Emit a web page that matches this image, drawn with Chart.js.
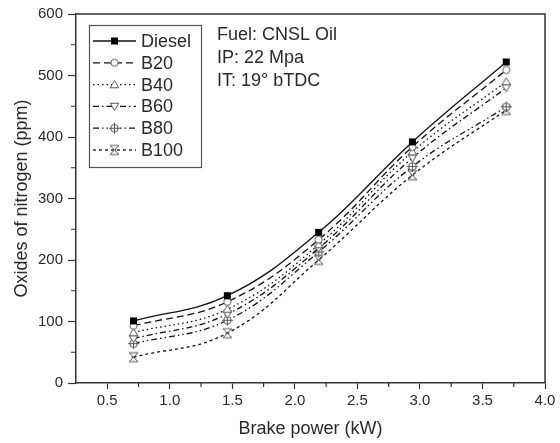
<!DOCTYPE html>
<html><head><meta charset="utf-8">
<script src="https://cdn.jsdelivr.net/npm/chart.js@4.4.1/dist/chart.umd.min.js"></script>
<style>html,body{margin:0;padding:0;background:#fff}#wrap{width:560px;height:443px}</style>
</head><body><div id="wrap"><canvas id="c" width="560" height="443"></canvas></div>
<script>
// ---- data ----
const brakePower = [0.71, 1.46, 2.19, 2.94, 3.69];
const diesel = [101, 142, 245, 392, 522];
const b20    = [93, 132, 233, 384, 509];
const b40    = [82, 120, 225, 376, 490];
const b60    = [72, 112, 219, 366, 480];
const b80    = [64, 102, 213, 352, 449];
const b100   = [42, 81, 200, 338, 444];
const seriesNames = ['Diesel', 'B20', 'B40', 'B60', 'B80', 'B100'];
const xTickValues = [0.5, 1.0, 1.5, 2.0, 2.5, 3.0, 3.5, 4.0];
const yTickValues = [0, 100, 200, 300, 400, 500, 600];
const xMinorTicks = [0.75, 1.25, 1.75, 2.25, 2.75, 3.25, 3.75];
const yMinorTicks = [50, 150, 250, 350, 450, 550];
const annotationLines = ['Fuel: CNSL Oil', 'IP: 22 Mpa', 'IT: 19\u00B0 bTDC'];
const xTitle = 'Brake power (kW)';
const yTitle = 'Oxides of nitrogen (ppm)';

const FONT = "'Liberation Sans', Arial, sans-serif";
const TXT = '#2a2a2a';
const AX = '#333';

function marker(type) {
  const s = 13, m = s / 2;
  const c = document.createElement('canvas');
  c.width = s; c.height = s;
  const g = c.getContext('2d');
  g.lineWidth = 1; g.strokeStyle = '#555'; g.fillStyle = '#fff';
  g.beginPath();
  if (type === 'square') {
    g.fillStyle = '#000'; g.fillRect(m - 3.5, m - 3.5, 7, 7);
  } else if (type === 'circle') {
    g.arc(m, m, 3.6, 0, Math.PI * 2); g.fill(); g.stroke();
  } else if (type === 'tri') {
    g.moveTo(m, m - 4); g.lineTo(m - 4.3, m + 3.2); g.lineTo(m + 4.3, m + 3.2); g.closePath(); g.fill(); g.stroke();
  } else if (type === 'triDown') {
    g.moveTo(m, m + 4); g.lineTo(m - 4.3, m - 3.2); g.lineTo(m + 4.3, m - 3.2); g.closePath(); g.fill(); g.stroke();
  } else if (type === 'circPlus') {
    g.arc(m, m, 3.8, 0, Math.PI * 2); g.fill(); g.stroke();
    g.beginPath(); g.moveTo(m - 5.5, m); g.lineTo(m + 5.5, m); g.moveTo(m, m - 5.5); g.lineTo(m, m + 5.5); g.stroke();
  } else if (type === 'xBox') {
    g.moveTo(m - 4.5, m - 4.5); g.lineTo(m + 4.5, m + 4.5);
    g.moveTo(m + 4.5, m - 4.5); g.lineTo(m - 4.5, m + 4.5);
    g.moveTo(m - 4.5, m - 4.5); g.lineTo(m + 4.5, m - 4.5);
    g.moveTo(m - 4.5, m + 4.5); g.lineTo(m + 4.5, m + 4.5);
    g.moveTo(m - 2, m); g.lineTo(m + 2, m);
    g.stroke();
  }
  return c;
}

const seriesValues = [diesel, b20, b40, b60, b80, b100];
const markerTypes = ['square', 'circle', 'tri', 'triDown', 'circPlus', 'xBox'];
const dashes = [[], [7, 4], [1.5, 3], [6, 3, 1.5, 3], [6, 3, 1.5, 3, 1.5, 3], [3, 3]];

const datasets = seriesNames.map((name, i) => ({
  label: name,
  data: brakePower.map((x, j) => ({ x: x, y: seriesValues[i][j] })),
  borderColor: '#111',
  borderWidth: 1.3,
  borderDash: dashes[i],
  pointStyle: marker(markerTypes[i]),
  pointRadius: 5,
  tension: 0.4,
  fill: false
}));

const extras = {
  id: 'extras',
  afterDraw(chart) {
    const ctx = chart.ctx, a = chart.chartArea;
    const xs = chart.scales.x, ys = chart.scales.y;
    ctx.save();
    // frame top/right
    ctx.strokeStyle = AX; ctx.lineWidth = 1.5;
    ctx.beginPath();
    ctx.moveTo(a.left, a.top); ctx.lineTo(a.right, a.top); ctx.lineTo(a.right, a.bottom);
    ctx.stroke();
    // minor ticks
    ctx.lineWidth = 1.2;
    ctx.beginPath();
    xMinorTicks.forEach(v => { const px = xs.getPixelForValue(v); ctx.moveTo(px, a.bottom); ctx.lineTo(px, a.bottom + 4); });
    yMinorTicks.forEach(v => { const py = ys.getPixelForValue(v); ctx.moveTo(a.left, py); ctx.lineTo(a.left - 5, py); });
    ctx.stroke();
    // legend
    const lx = 89, ly = 25, lw = 112, lh = 142;
    ctx.strokeStyle = '#555'; ctx.lineWidth = 1.2;
    ctx.strokeRect(lx + 0.5, ly + 0.5, lw, lh);
    ctx.font = '18px ' + FONT; ctx.fillStyle = TXT; ctx.textBaseline = 'middle'; ctx.textAlign = 'left';
    seriesNames.forEach((name, i) => {
      const y = 41 + i * 21.8;
      ctx.strokeStyle = '#111'; ctx.lineWidth = 1.3; ctx.setLineDash(dashes[i]);
      ctx.beginPath(); ctx.moveTo(93, y); ctx.lineTo(136, y); ctx.stroke();
      ctx.setLineDash([]);
      const img = datasets[i].pointStyle;
      ctx.drawImage(img, 114.5 - img.width / 2, y - img.height / 2);
      ctx.fillText(name, 141, y + 1);
    });
    // annotations
    annotationLines.forEach((t, i) => ctx.fillText(t, 217, 35 + i * 22.8));
    ctx.restore();
  }
};

new Chart(document.getElementById('c'), {
  type: 'line',
  data: { datasets: datasets },
  options: {
    responsive: false, animation: false, devicePixelRatio: 1,
    layout: { padding: { left: 0, top: 14, right: 15, bottom: 0 } },
    plugins: { legend: { display: false }, tooltip: { enabled: false } },
    scales: {
      x: {
        type: 'linear', min: 0.25, max: 4.0,
        afterBuildTicks: s => { s.ticks = xTickValues.map(v => ({ value: v })); },
        afterFit: s => { s.height = 60; },
        ticks: { color: TXT, font: { family: FONT, size: 15 }, padding: 3, callback: v => v.toFixed(1), maxRotation: 0 },
        grid: { drawOnChartArea: false, drawTicks: true, tickLength: 6, tickColor: AX, tickWidth: 1.2 },
        border: { display: true, color: AX, width: 1.5 },
        title: { display: true, text: xTitle, color: TXT, font: { family: FONT, size: 18 }, padding: { top: 0, bottom: 3 } }
      },
      y: {
        type: 'linear', min: 0, max: 600,
        afterBuildTicks: s => { s.ticks = yTickValues.map(v => ({ value: v })); },
        afterFit: s => { s.width = 76; },
        ticks: { color: TXT, font: { family: FONT, size: 15 }, padding: 5 },
        grid: { drawOnChartArea: false, drawTicks: true, tickLength: 8, tickColor: AX, tickWidth: 1.2 },
        border: { display: true, color: AX, width: 1.5 },
        title: { display: true, text: yTitle, color: TXT, font: { family: FONT, size: 18 }, padding: { top: 11, bottom: 0 } }
      }
    }
  },
  plugins: [extras]
});
</script>
</body></html>
